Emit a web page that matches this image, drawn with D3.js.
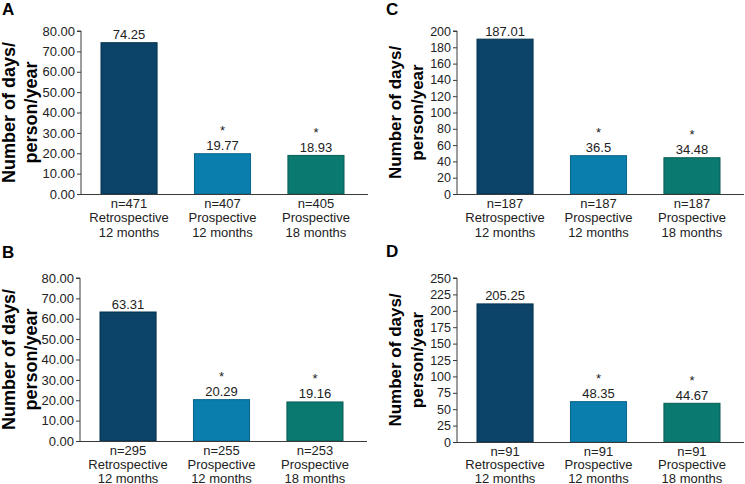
<!DOCTYPE html>
<html>
<head>
<meta charset="utf-8">
<script src="https://cdn.jsdelivr.net/npm/d3@7"></script>
<style>
  body { margin: 0; background: #fff; }
  svg { display: block; font-family: "Liberation Sans", Arial, sans-serif; }
</style>
</head>
<body>
<svg id="chart" width="745" height="484"></svg>
<script>
// categories (three lines each)
var groups = ["retro12", "pro12", "pro18"];
var groupLines = [["Retrospective", "12 months"], ["Prospective", "12 months"], ["Prospective", "18 months"]];
var barColors = ["#0b4468", "#0a7fae", "#0a7a70"];
var barStrokes = ["#05304c", "#086289", "#075c54"];

// panel A
var nA = ["n=471", "n=407", "n=405"];
var valuesA = [74.25, 19.77, 18.93];
var labelsA = ["74.25", "19.77", "18.93"];
var ticksA = [0, 10, 20, 30, 40, 50, 60, 70, 80];

// panel B
var nB = ["n=295", "n=255", "n=253"];
var valuesB = [63.31, 20.29, 19.16];
var labelsB = ["63.31", "20.29", "19.16"];
var ticksB = [0, 10, 20, 30, 40, 50, 60, 70, 80];

// panel C (bars as drawn in the figure)
var nC = ["n=187", "n=187", "n=187"];
var valuesC = [190, 47, 44.5];
var labelsC = ["187.01", "36.5", "34.48"];
var ticksC = [0, 20, 40, 60, 80, 100, 120, 140, 160, 180, 200];

// panel D (bars as drawn in the figure)
var nD = ["n=91", "n=91", "n=91"];
var valuesD = [210.5, 61.5, 59];
var labelsD = ["205.25", "48.35", "44.67"];
var ticksD = [0, 25, 50, 75, 100, 125, 150, 175, 200, 225, 250];

var starred = [false, true, true];

var svg = d3.select("#chart");
svg.append("rect").attr("width", 745).attr("height", 484).attr("fill", "#fff");

var panels = [
  {letter: "A", lx: 2, ly: 15, ax: 81, top: 31, bottom: 194, max: 80, ticks: ticksA, fmt: ".2f", tickFont: 13,
   t1: 15, t2: 37, titleFont: 18, ns: nA, values: valuesA, labels: labelsA, catStep: 14.5},
  {letter: "B", lx: 2, ly: 258, ax: 80, top: 278, bottom: 441, max: 80, ticks: ticksB, fmt: ".2f", tickFont: 13,
   t1: 15, t2: 37, titleFont: 18, ns: nB, values: valuesB, labels: labelsB, catStep: 14},
  {letter: "C", lx: 386, ly: 15, ax: 457, top: 31, bottom: 194, max: 200, ticks: ticksC, fmt: "d", tickFont: 12.5,
   t1: 401, t2: 423, titleFont: 17, ns: nC, values: valuesC, labels: labelsC, catStep: 14.5},
  {letter: "D", lx: 386, ly: 257, ax: 457, top: 278, bottom: 442, max: 250, ticks: ticksD, fmt: "d", tickFont: 12.5,
   t1: 401, t2: 423, titleFont: 17, ns: nD, values: valuesD, labels: labelsD, catStep: 13.5}
];

panels.forEach(function (p) { draw_panel(p); });

function draw_panel(p)
{
  var g = svg.append("g");
  var axisColor = "#3a3a3a";

  var x = d3.scaleBand()
    .domain(groups)
    .range([p.ax, p.ax + 283])
    .paddingInner(0.4)
    .paddingOuter(0.214);
  var y = d3.scaleLinear().domain([0, p.max]).range([p.bottom, p.top]);

  // panel letter
  g.append("text")
    .attr("x", p.lx).attr("y", p.ly)
    .style("font-size", "17px").style("font-weight", "bold")
    .text(p.letter);

  // y title
  var cy = (p.top + p.bottom) / 2;
  [["Number of days/", p.t1], ["person/year", p.t2]].forEach(function (t) {
    g.append("text")
      .attr("transform", "translate(" + t[1] + "," + cy + ") rotate(-90)")
      .attr("text-anchor", "middle")
      .style("font-size", p.titleFont + "px").style("font-weight", "bold")
      .text(t[0]);
  });

  // bars
  g.selectAll(".bar")
    .data(p.values)
    .enter()
    .append("rect")
    .attr("class", "bar")
    .attr("x", function (d, i) { return x(groups[i]); })
    .attr("y", function (d) { return y(d); })
    .attr("width", x.bandwidth())
    .attr("height", function (d) { return p.bottom - y(d); })
    .attr("fill", function (d, i) { return barColors[i]; })
    .attr("stroke", function (d, i) { return barStrokes[i]; })
    .attr("stroke-width", 1);

  // y axis
  var yAxis = d3.axisLeft(y).tickValues(p.ticks).tickFormat(d3.format(p.fmt)).tickSize(4).tickPadding(2);
  var ag = g.append("g").attr("transform", "translate(" + p.ax + ",0)").call(yAxis);
  ag.select(".domain").attr("stroke", axisColor);
  ag.selectAll(".tick line").attr("stroke", axisColor);
  ag.selectAll(".tick text")
    .attr("fill", "#222")
    .style("font-size", p.tickFont + "px")
    .style("font-family", "\"Liberation Sans\", Arial, sans-serif");
  ag.select(".domain").attr("d", "M-4," + p.top + "H0V" + p.bottom);

  // baseline
  g.append("line")
    .attr("x1", p.ax).attr("x2", p.ax + 287)
    .attr("y1", p.bottom + 0.5).attr("y2", p.bottom + 0.5)
    .attr("stroke", axisColor).attr("stroke-width", 1.2);

  // value labels
  g.selectAll(".val")
    .data(p.values)
    .enter()
    .append("text")
    .attr("x", function (d, i) { return x(groups[i]) + x.bandwidth() / 2; })
    .attr("y", function (d) { return y(d) - 3.5; })
    .attr("text-anchor", "middle")
    .style("font-size", "13px")
    .attr("fill", "#222")
    .text(function (d, i) { return p.labels[i]; });

  // significance stars
  g.selectAll(".star")
    .data(p.values.filter(function (d, i) { return starred[i]; }))
    .enter()
    .append("text")
    .attr("x", function (d, i) { return x(groups[i + 1]) + x.bandwidth() / 2; })
    .attr("y", function (d) { return y(d) - 18.5; })
    .attr("text-anchor", "middle")
    .style("font-size", "13px")
    .attr("fill", "#222")
    .text("*");

  // category labels
  groups.forEach(function (k, i) {
    var lines = [p.ns[i]].concat(groupLines[i]);
    lines.forEach(function (s, j) {
      g.append("text")
        .attr("x", x(k) + x.bandwidth() / 2)
        .attr("y", p.bottom + 13.5 + j * p.catStep)
        .attr("text-anchor", "middle")
        .style("font-size", "13px")
        .attr("fill", "#222")
        .text(s);
    });
  });
}
</script>
</body>
</html>
